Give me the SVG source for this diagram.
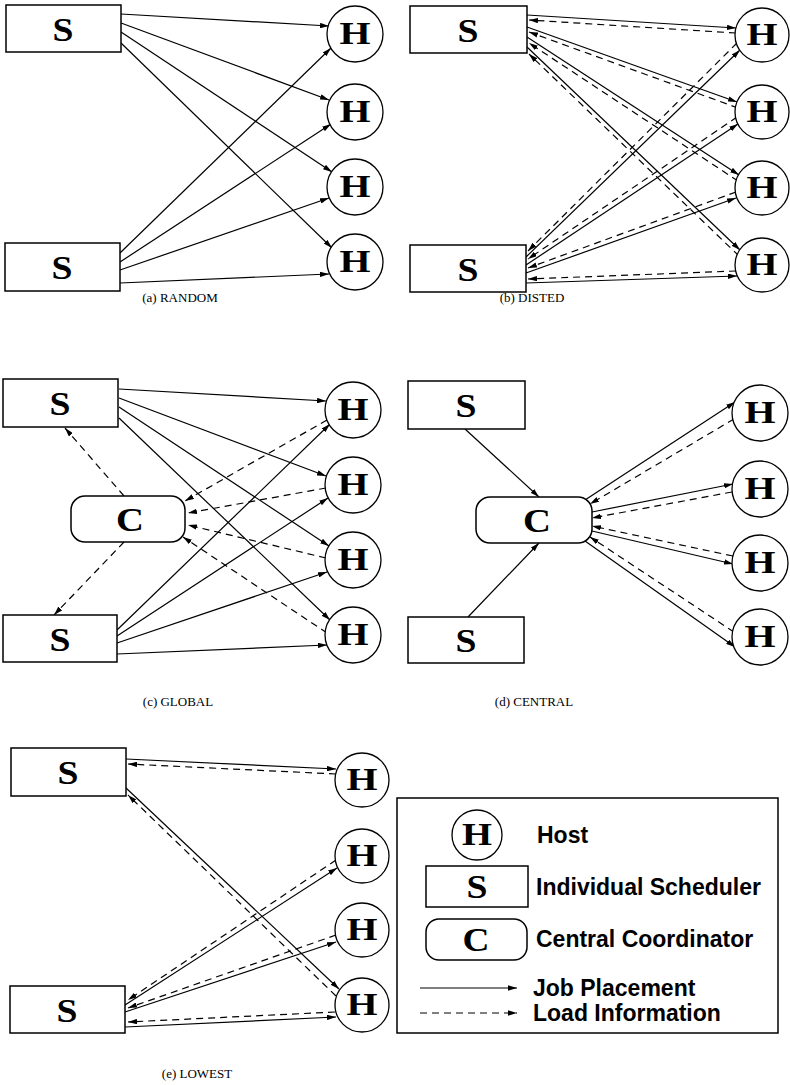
<svg xmlns="http://www.w3.org/2000/svg" width="790" height="1085" viewBox="0 0 790 1085">
  <style>
    .box { fill: #fff; stroke: #000; stroke-width: 1.5; }
    .host { fill: #fff; stroke: #000; stroke-width: 1.3; }
    .lbl { font-family: "Liberation Serif", "Times New Roman", serif; font-weight: bold; text-anchor: middle; fill: #000; }
    .s { font-size: 33px; }
    .c { font-size: 34px; }
    .h { font-size: 31px; }
    .cap { font-family: "Liberation Serif", "Times New Roman", serif; font-size: 13px; text-anchor: middle; fill: #000; }
    .leg { font-family: "Liberation Sans", Arial, sans-serif; font-weight: bold; font-size: 23px; fill: #000; }
    .job { stroke: #000; stroke-width: 1.2; fill: none; marker-end: url(#ah); }
    .load { stroke: #000; stroke-width: 1.2; fill: none; stroke-dasharray: 7 5; marker-end: url(#ah); }
  </style>
  <defs>
    <marker id="ah" viewBox="0 0 10 6" refX="10" refY="3" markerWidth="9" markerHeight="5.4" markerUnits="userSpaceOnUse" orient="auto">
      <path d="M0,0 L10,3 L0,6 z" fill="#000"/>
    </marker>
  </defs>
  <rect width="790" height="1085" fill="#fff"/>

  <!-- connectors -->
  <g id="connectors">
    <!-- (a) RANDOM -->
    <g id="conn-a">
      <line class="job" x1="121" y1="14" x2="329" y2="26"/>
      <line class="job" x1="121" y1="23" x2="329" y2="100"/>
      <line class="job" x1="121" y1="32" x2="332" y2="172"/>
      <line class="job" x1="121" y1="43" x2="332" y2="248"/>
      <line class="job" x1="120" y1="253" x2="331" y2="48"/>
      <line class="job" x1="120" y1="262" x2="331" y2="124"/>
      <line class="job" x1="120" y1="270" x2="329" y2="198"/>
      <line class="job" x1="120" y1="283" x2="329" y2="274"/>
    </g>
    <!-- (b) DISTED -->
    <g id="conn-b">
      <line class="job" x1="527" y1="15" x2="736" y2="28"/>
      <line class="load" x1="736" y1="33" x2="529" y2="20"/>
      <line class="job" x1="527" y1="27" x2="737" y2="102"/>
      <line class="load" x1="738" y1="108" x2="529" y2="32"/>
      <line class="job" x1="527" y1="37" x2="739" y2="175"/>
      <line class="load" x1="738" y1="181" x2="529" y2="43"/>
      <line class="job" x1="527" y1="47" x2="740" y2="250"/>
      <line class="load" x1="739" y1="256" x2="529" y2="54"/>
      <line class="job" x1="526" y1="257" x2="740" y2="50"/>
      <line class="load" x1="737" y1="43" x2="528" y2="251"/>
      <line class="job" x1="526" y1="265" x2="738" y2="124"/>
      <line class="load" x1="737" y1="117" x2="528" y2="259"/>
      <line class="job" x1="526" y1="273" x2="736" y2="198"/>
      <line class="load" x1="736" y1="192" x2="528" y2="268"/>
      <line class="job" x1="526" y1="283" x2="737" y2="276"/>
      <line class="load" x1="736" y1="271" x2="528" y2="279"/>
    </g>
    <!-- (c) GLOBAL -->
    <g id="conn-c">
      <line class="job" x1="119" y1="389" x2="326" y2="401"/>
      <line class="job" x1="119" y1="398" x2="326" y2="476"/>
      <line class="job" x1="119" y1="407" x2="329" y2="546"/>
      <line class="job" x1="119" y1="418" x2="330" y2="620"/>
      <line class="job" x1="117" y1="630" x2="330" y2="424"/>
      <line class="job" x1="117" y1="636" x2="328" y2="498"/>
      <line class="job" x1="117" y1="643" x2="327" y2="572"/>
      <line class="job" x1="117" y1="654" x2="327" y2="645"/>
      <line class="load" x1="124" y1="496" x2="65" y2="428"/>
      <line class="load" x1="124" y1="542" x2="54" y2="615"/>
      <line class="load" x1="327" y1="420" x2="185" y2="501"/>
      <line class="load" x1="326" y1="488" x2="188" y2="513"/>
      <line class="load" x1="326" y1="558" x2="188" y2="525"/>
      <line class="load" x1="327" y1="633" x2="183" y2="537"/>
    </g>
    <!-- (d) CENTRAL -->
    <g id="conn-d">
      <line class="job" x1="465" y1="429" x2="539" y2="497"/>
      <line class="job" x1="468" y1="617" x2="539" y2="543"/>
      <line class="job" x1="585" y1="500" x2="735" y2="402"/>
      <line class="load" x1="734" y1="419" x2="590" y2="504"/>
      <line class="job" x1="592" y1="512" x2="733" y2="484"/>
      <line class="load" x1="732" y1="492" x2="592" y2="518"/>
      <line class="job" x1="592" y1="531" x2="733" y2="564"/>
      <line class="load" x1="733" y1="556" x2="592" y2="526"/>
      <line class="job" x1="585" y1="541" x2="735" y2="647"/>
      <line class="load" x1="734" y1="632" x2="590" y2="537"/>
    </g>
    <!-- (e) LOWEST -->
    <g id="conn-e">
      <line class="job" x1="126" y1="759" x2="336" y2="769"/>
      <line class="load" x1="336" y1="774" x2="128" y2="764"/>
      <line class="job" x1="126" y1="788" x2="339" y2="989"/>
      <line class="load" x1="336" y1="996" x2="128" y2="795"/>
      <line class="job" x1="125" y1="1005" x2="337" y2="868"/>
      <line class="load" x1="336" y1="860" x2="128" y2="1000"/>
      <line class="job" x1="125" y1="1012" x2="336" y2="942"/>
      <line class="load" x1="336" y1="935" x2="128" y2="1008"/>
      <line class="job" x1="125" y1="1027" x2="336" y2="1017"/>
      <line class="load" x1="335" y1="1012" x2="128" y2="1022"/>
    </g>
  </g>

  <!-- (a) RANDOM -->
  <g id="a-s1"><rect class="box" x="6" y="5" width="115" height="47"/><text class="lbl s" x="63" y="40.5" textLength="21" lengthAdjust="spacingAndGlyphs">S</text></g>
  <g id="a-s2"><rect class="box" x="5" y="243" width="115" height="48"/><text class="lbl s" x="62" y="279" textLength="21" lengthAdjust="spacingAndGlyphs">S</text></g>
  <g id="a-h1"><circle class="host" cx="355" cy="34" r="28"/><text class="lbl h" x="355" y="44.2" textLength="31" lengthAdjust="spacingAndGlyphs">H</text></g>
  <g id="a-h2"><circle class="host" cx="355" cy="112" r="28"/><text class="lbl h" x="355" y="122.2" textLength="31" lengthAdjust="spacingAndGlyphs">H</text></g>
  <g id="a-h3"><circle class="host" cx="355" cy="187" r="28"/><text class="lbl h" x="355" y="197.2" textLength="31" lengthAdjust="spacingAndGlyphs">H</text></g>
  <g id="a-h4"><circle class="host" cx="355" cy="262" r="28"/><text class="lbl h" x="355" y="272.2" textLength="31" lengthAdjust="spacingAndGlyphs">H</text></g>
  <text class="cap" x="180" y="302">(a) RANDOM</text>

  <!-- (b) DISTED -->
  <g id="b-s1"><rect class="box" x="410" y="6" width="117" height="47"/><text class="lbl s" x="468" y="41.5" textLength="21" lengthAdjust="spacingAndGlyphs">S</text></g>
  <g id="b-s2"><rect class="box" x="410" y="245" width="116" height="47"/><text class="lbl s" x="468" y="280.5" textLength="21" lengthAdjust="spacingAndGlyphs">S</text></g>
  <g id="b-h1"><circle class="host" cx="762" cy="35" r="27"/><text class="lbl h" x="762" y="45.2" textLength="31" lengthAdjust="spacingAndGlyphs">H</text></g>
  <g id="b-h2"><circle class="host" cx="762" cy="112" r="27"/><text class="lbl h" x="762" y="122.2" textLength="31" lengthAdjust="spacingAndGlyphs">H</text></g>
  <g id="b-h3"><circle class="host" cx="762" cy="188" r="27"/><text class="lbl h" x="762" y="198.2" textLength="31" lengthAdjust="spacingAndGlyphs">H</text></g>
  <g id="b-h4"><circle class="host" cx="762" cy="265" r="27"/><text class="lbl h" x="762" y="275.2" textLength="31" lengthAdjust="spacingAndGlyphs">H</text></g>
  <text class="cap" x="532" y="302">(b) DISTED</text>

  <!-- (c) GLOBAL -->
  <g id="c-s1"><rect class="box" x="3" y="379" width="115" height="48"/><text class="lbl s" x="60" y="415" textLength="21" lengthAdjust="spacingAndGlyphs">S</text></g>
  <g id="c-c"><rect class="box" x="71" y="496" width="114" height="46" rx="14"/><text class="lbl c" x="130" y="531" textLength="28" lengthAdjust="spacingAndGlyphs">C</text></g>
  <g id="c-s2"><rect class="box" x="3" y="615" width="114" height="47"/><text class="lbl s" x="60" y="650.5" textLength="21" lengthAdjust="spacingAndGlyphs">S</text></g>
  <g id="c-h1"><circle class="host" cx="353" cy="410" r="28"/><text class="lbl h" x="353" y="420.2" textLength="31" lengthAdjust="spacingAndGlyphs">H</text></g>
  <g id="c-h2"><circle class="host" cx="353" cy="485" r="28"/><text class="lbl h" x="353" y="495.2" textLength="31" lengthAdjust="spacingAndGlyphs">H</text></g>
  <g id="c-h3"><circle class="host" cx="353" cy="560" r="28"/><text class="lbl h" x="353" y="570.2" textLength="31" lengthAdjust="spacingAndGlyphs">H</text></g>
  <g id="c-h4"><circle class="host" cx="353" cy="635" r="28"/><text class="lbl h" x="353" y="645.2" textLength="31" lengthAdjust="spacingAndGlyphs">H</text></g>
  <text class="cap" x="178" y="706">(c) GLOBAL</text>

  <!-- (d) CENTRAL -->
  <g id="d-s1"><rect class="box" x="408" y="381" width="117" height="48"/><text class="lbl s" x="466" y="417" textLength="21" lengthAdjust="spacingAndGlyphs">S</text></g>
  <g id="d-c"><rect class="box" x="476" y="497" width="116" height="46" rx="14"/><text class="lbl c" x="537" y="532" textLength="28" lengthAdjust="spacingAndGlyphs">C</text></g>
  <g id="d-s2"><rect class="box" x="408" y="617" width="116" height="46"/><text class="lbl s" x="466" y="652" textLength="21" lengthAdjust="spacingAndGlyphs">S</text></g>
  <g id="d-h1"><circle class="host" cx="760" cy="413" r="28"/><text class="lbl h" x="760" y="423.2" textLength="31" lengthAdjust="spacingAndGlyphs">H</text></g>
  <g id="d-h2"><circle class="host" cx="760" cy="489" r="28"/><text class="lbl h" x="760" y="499.2" textLength="31" lengthAdjust="spacingAndGlyphs">H</text></g>
  <g id="d-h3"><circle class="host" cx="760" cy="563" r="28"/><text class="lbl h" x="760" y="573.2" textLength="31" lengthAdjust="spacingAndGlyphs">H</text></g>
  <g id="d-h4"><circle class="host" cx="760" cy="637" r="28"/><text class="lbl h" x="760" y="647.2" textLength="31" lengthAdjust="spacingAndGlyphs">H</text></g>
  <text class="cap" x="534" y="706">(d) CENTRAL</text>

  <!-- (e) LOWEST -->
  <g id="e-s1"><rect class="box" x="11" y="748" width="115" height="48"/><text class="lbl s" x="68" y="784" textLength="21" lengthAdjust="spacingAndGlyphs">S</text></g>
  <g id="e-s2"><rect class="box" x="10" y="986" width="115" height="47"/><text class="lbl s" x="67" y="1021.5" textLength="21" lengthAdjust="spacingAndGlyphs">S</text></g>
  <g id="e-h1"><circle class="host" cx="362" cy="780" r="27"/><text class="lbl h" x="362" y="790.2" textLength="31" lengthAdjust="spacingAndGlyphs">H</text></g>
  <g id="e-h2"><circle class="host" cx="362" cy="856" r="27"/><text class="lbl h" x="362" y="866.2" textLength="31" lengthAdjust="spacingAndGlyphs">H</text></g>
  <g id="e-h3"><circle class="host" cx="362" cy="930" r="27"/><text class="lbl h" x="362" y="940.2" textLength="31" lengthAdjust="spacingAndGlyphs">H</text></g>
  <g id="e-h4"><circle class="host" cx="362" cy="1005" r="27"/><text class="lbl h" x="362" y="1015.2" textLength="31" lengthAdjust="spacingAndGlyphs">H</text></g>
  <text class="cap" x="197" y="1078">(e) LOWEST</text>

  <!-- legend -->
  <g id="legend">
    <rect x="397" y="798" width="381" height="235" fill="#fff" stroke="#000" stroke-width="1.5"/>
    <circle class="host" cx="477" cy="835" r="25"/>
    <text class="lbl h" x="477" y="845" textLength="30" lengthAdjust="spacingAndGlyphs">H</text>
    <text class="leg" x="537" y="843">Host</text>
    <rect class="box" x="426" y="866" width="102" height="41"/>
    <text class="lbl s" x="477" y="898" textLength="21" lengthAdjust="spacingAndGlyphs">S</text>
    <text class="leg" x="536" y="895">Individual Scheduler</text>
    <rect class="box" x="426" y="919" width="101" height="41" rx="13"/>
    <text class="lbl c" x="476" y="951" textLength="27" lengthAdjust="spacingAndGlyphs">C</text>
    <text class="leg" x="536" y="947">Central Coordinator</text>
    <line class="job" x1="420" y1="988" x2="517" y2="988"/>
    <text class="leg" x="533" y="996">Job Placement</text>
    <line class="load" x1="420" y1="1013" x2="517" y2="1013"/>
    <text class="leg" x="533" y="1021">Load Information</text>
  </g>
</svg>
